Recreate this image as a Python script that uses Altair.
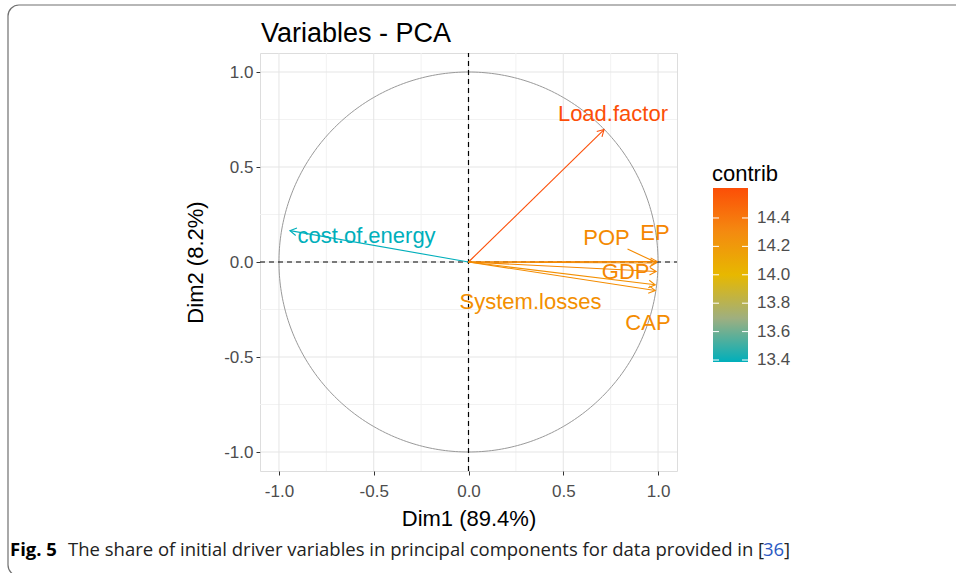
import altair as alt
import pandas as pd

# ---- data ----
variables = ["Load.factor", "cost.of.energy", "EP", "POP", "GDP", "System.losses", "CAP"]
dim1 = [0.715, -0.942, 0.995, 0.990, 0.990, 0.985, 0.985]
dim2 = [0.697, 0.165, 0.002, -0.005, -0.050, -0.120, -0.150]
contrib = [14.611, 13.386, 14.33, 14.30, 14.32, 14.27, 14.29]
label_x = [0.762, -0.538, 0.984, 0.728, 0.829, 0.327, 0.947]
label_y = [0.779, 0.137, 0.153, 0.126, -0.053, -0.210, -0.321]

# ggrepel connector segment (POP label -> its arrow tip)
seg_var = ["POP"]
seg_x = [0.839]
seg_y = [0.068]
seg_x2 = [0.985]
seg_y2 = [0.000]
seg_contrib = [14.30]

grid_major = [-1.0, -0.5, 0.0, 0.5, 1.0]
grid_minor = [-0.75, -0.25, 0.25, 0.75]
tick_values = [-1.0, -0.5, 0.0, 0.5, 1.0]
legend_values = [13.4, 13.6, 13.8, 14.0, 14.2, 14.4]
contrib_range = [min(contrib), max(contrib)]
palette = ["#00AFBB", "#E7B800", "#FC4E07"]
axis_limits = [-1.1, 1.1]

title_text = "Variables - PCA"
x_title = "Dim1 (89.4%)"
y_title = "Dim2 (8.2%)"
legend_title = "contrib"
caption_bold = "Fig. 5"
caption_main = "The share of initial driver variables in principal components for data provided in ["
caption_ref = "36"
caption_end = "]"

df = pd.DataFrame({"var": variables, "dim1": dim1, "dim2": dim2, "contrib": contrib,
                   "lx": label_x, "ly": label_y, "o": [0.0] * len(variables)})
seg_df = pd.DataFrame({"var": seg_var, "sx": seg_x, "sy": seg_y, "sx2": seg_x2, "sy2": seg_y2,
                       "contrib": seg_contrib})

FONT = "Liberation Sans"
W, H = 417, 418
PAD_L, PAD_T = 260, 53

LABEL_EXPR = "replace(format(datum.value, '.1f'), '\u2212', '-')"

xs = alt.Scale(domain=axis_limits, nice=False, zero=False)
ys = alt.Scale(domain=axis_limits, nice=False, zero=False)
xaxis = alt.Axis(values=tick_values, labelExpr=LABEL_EXPR, grid=False, domain=False, ticks=True,
                 tickSize=4, tickColor="#333333", tickWidth=1, labelFontSize=17, labelFont=FONT,
                 labelColor="#4D4D4D", labelPadding=8, title=x_title, titleFont=FONT,
                 titleFontSize=22, titleFontWeight="normal", titleColor="black", titlePadding=9,
                 labelFlush=False)
yaxis = alt.Axis(values=tick_values, labelExpr=LABEL_EXPR, grid=False, domain=False, ticks=True,
                 tickSize=4, tickColor="#333333", tickWidth=1, labelFontSize=17, labelFont=FONT,
                 labelColor="#4D4D4D", labelPadding=3, title=y_title, titleFont=FONT,
                 titleFontSize=22, titleFontWeight="normal", titleColor="black", titlePadding=16,
                 labelFlush=False)

cscale = alt.Scale(domain=[contrib_range[0], sum(contrib_range) / 2, contrib_range[1]],
                   range=palette, interpolate="lab")
color = alt.Color("contrib:Q", scale=cscale, legend=None)


def X(f):
    return alt.X(f, type="quantitative", scale=xs, axis=xaxis)


def Y(f):
    return alt.Y(f, type="quantitative", scale=ys, axis=yaxis)


gmaj_df = pd.DataFrame({"g": grid_major, "lo": axis_limits[0], "hi": axis_limits[1]})
gmin_df = pd.DataFrame({"g": grid_minor, "lo": axis_limits[0], "hi": axis_limits[1]})

vmin = alt.Chart(gmin_df).mark_rule(color="#F2F2F2", strokeWidth=1).encode(
    x=X("g"), y=Y("lo"), y2="hi:Q")
hmin = alt.Chart(gmin_df).mark_rule(color="#F2F2F2", strokeWidth=1).encode(
    y=Y("g"), x=X("lo"), x2="hi:Q")
vmaj = alt.Chart(gmaj_df).mark_rule(color="#E5E5E5", strokeWidth=1).encode(
    x=X("g"), y=Y("lo"), y2="hi:Q")
hmaj = alt.Chart(gmaj_df).mark_rule(color="#E5E5E5", strokeWidth=1).encode(
    y=Y("g"), x=X("lo"), x2="hi:Q")

circle = alt.Chart(alt.sequence(0, 361, 1, as_="deg")).transform_calculate(
    cx="cos(datum.deg * PI / 180)", cy="sin(datum.deg * PI / 180)"
).mark_line(color="#999999", strokeWidth=1).encode(x=X("cx"), y=Y("cy"), order="deg:Q")

zero_df = pd.DataFrame({"z": [0.0], "lo": axis_limits[0], "hi": axis_limits[1]})
vdash = alt.Chart(zero_df).mark_rule(color="black", strokeDash=[5, 4], strokeWidth=1.2).encode(
    x=X("z"), y=Y("lo"), y2="hi:Q")
hdash = alt.Chart(zero_df).mark_rule(color="black", strokeDash=[5, 4], strokeWidth=1.2).encode(
    y=Y("z"), x=X("lo"), x2="hi:Q")

arrows = alt.Chart(df).mark_rule(strokeWidth=1.1).encode(
    x=X("o"), y=Y("o"), x2="dim1:Q", y2="dim2:Q", color=color)

heads = alt.Chart(df).transform_calculate(
    ang="(atan2(-datum.dim2, datum.dim1) * 180 / PI + 360) % 360"
).mark_point(shape="M-1,-0.577L0,0L-1,0.577", filled=False, size=169, strokeWidth=1.1,
             opacity=1).encode(x=X("dim1"), y=Y("dim2"), color=color,
                               angle=alt.Angle("ang:Q", scale=None))

segs = alt.Chart(seg_df).mark_rule(strokeWidth=1.1).encode(
    x=X("sx"), y=Y("sy"), x2="sx2:Q", y2="sy2:Q", color=color)

labels = alt.Chart(df).mark_text(font=FONT, fontSize=22, baseline="middle", align="center").encode(
    x=X("lx"), y=Y("ly"), text="var:N", color=color)

# title, frame and caption (figure furniture)
title = alt.Chart(pd.DataFrame({"t": [title_text]})).mark_text(
    font=FONT, fontSize=27, align="left", baseline="alphabetic", color="black"
).encode(x=alt.value(261 - PAD_L), y=alt.value(42 - PAD_T), text="t:N")

frame = alt.Chart(pd.DataFrame({"k": [0]})).mark_rect(
    fillOpacity=0, stroke="#707070", strokeWidth=1.2, cornerRadius=11
).encode(x=alt.value(8 - PAD_L), x2=alt.value(990 - PAD_L),
         y=alt.value(5 - PAD_T), y2=alt.value(576 - PAD_T))

CAP_FONT = "Open Sans"
CAP_SIZE = 18.5
cap1 = alt.Chart(pd.DataFrame({"t": [caption_bold]})).mark_text(
    font=CAP_FONT, fontSize=CAP_SIZE, fontWeight="bold", align="left", baseline="alphabetic",
    color="black"
).encode(x=alt.value(10 - PAD_L), y=alt.value(556 - PAD_T), text="t:N")
cap2 = alt.Chart(pd.DataFrame({"t": [caption_main]})).mark_text(
    font=CAP_FONT, fontSize=CAP_SIZE, align="left", baseline="alphabetic", color="#222222"
).encode(x=alt.value(68 - PAD_L), y=alt.value(556 - PAD_T), text="t:N")
cap3 = alt.Chart(pd.DataFrame({"t": [caption_ref]})).mark_text(
    font=CAP_FONT, fontSize=CAP_SIZE, align="left", baseline="alphabetic", color="#2B59C3"
).encode(x=alt.value(763 - PAD_L), y=alt.value(556 - PAD_T), text="t:N")
cap4 = alt.Chart(pd.DataFrame({"t": [caption_end]})).mark_text(
    font=CAP_FONT, fontSize=CAP_SIZE, align="left", baseline="alphabetic", color="#222222"
).encode(x=alt.value(784 - PAD_L), y=alt.value(556 - PAD_T), text="t:N")

plot_group = alt.layer(
    vmin, hmin, vmaj, hmaj, circle, vdash, hdash, arrows, heads, segs, labels,
    title, frame, cap1, cap2, cap3, cap4
)

# ---- colourbar legend (ggplot style) ----
lscale = alt.Scale(domain=contrib_range, range=[362 - PAD_T, 188 - PAD_T], nice=False, zero=False)
bar_df = pd.DataFrame({"lo": [contrib_range[0]], "hi": [contrib_range[1]]})
lv_df = pd.DataFrame({"v": legend_values})

grad = alt.Gradient(
    gradient="linear", x1=0, x2=0, y1=1, y2=0,
    stops=[alt.GradientStop(color=palette[0], offset=0),
           alt.GradientStop(color="#9EAF80", offset=0.25),
           alt.GradientStop(color=palette[1], offset=0.5),
           alt.GradientStop(color="#F48A10", offset=0.75),
           alt.GradientStop(color=palette[2], offset=1)])

leg_bar = alt.Chart(bar_df).mark_rect(fill=grad).encode(
    x=alt.value(713 - PAD_L), x2=alt.value(748 - PAD_L),
    y=alt.Y("lo:Q", scale=lscale, axis=None), y2="hi:Q")
leg_tick_l = alt.Chart(lv_df).mark_rule(color="white", strokeWidth=1).encode(
    x=alt.value(713 - PAD_L), x2=alt.value(719 - PAD_L), y=alt.Y("v:Q", scale=lscale, axis=None))
leg_tick_r = alt.Chart(lv_df).mark_rule(color="white", strokeWidth=1).encode(
    x=alt.value(742 - PAD_L), x2=alt.value(748 - PAD_L), y=alt.Y("v:Q", scale=lscale, axis=None))
leg_labels = alt.Chart(lv_df).mark_text(
    font=FONT, fontSize=17, align="left", baseline="middle", color="#4D4D4D"
).encode(x=alt.value(757 - PAD_L), y=alt.Y("v:Q", scale=lscale, axis=None),
         text=alt.Text("v:Q", format=".1f"))
leg_title = alt.Chart(pd.DataFrame({"t": [legend_title]})).mark_text(
    font=FONT, fontSize=22, align="left", baseline="alphabetic", color="black"
).encode(x=alt.value(712 - PAD_L), y=alt.value(181 - PAD_T), text="t:N")

legend_group = alt.layer(leg_bar, leg_tick_l, leg_tick_r, leg_labels, leg_title)

chart = alt.layer(plot_group, legend_group).resolve_scale(
    x="independent", y="independent"
).properties(
    width=W, height=H,
    autosize=alt.AutoSizeParams(type="none"),
    padding={"left": PAD_L, "top": PAD_T, "right": 956 - PAD_L - W, "bottom": 573 - PAD_T - H},
).configure_view(stroke=None).configure(background="white", font=FONT).configure_axis(
    labelFont=FONT, titleFont=FONT
)

chart.save("out.html", embed_options={"renderer": "svg", "actions": False})
